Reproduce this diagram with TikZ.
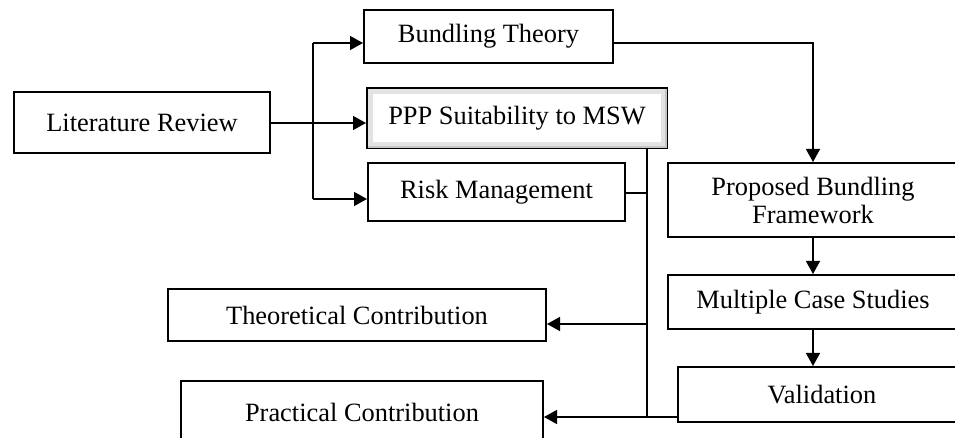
\documentclass[tikz,border=0pt]{standalone}
\usepackage{fontspec}
\setmainfont{Liberation Serif}
\usetikzlibrary{arrows.meta,calc}
\begin{document}
\begin{tikzpicture}[x=0.5pt,y=-0.5pt,
  box/.style={draw=black, line width=1pt, fill=white, rectangle, inner sep=0pt,
    font=\fontsize{13.2}{14}\selectfont, align=center},
  conn/.style={line width=0.7pt, draw=black},
  arr/.style={conn, -{Triangle[length=6.5pt,width=7pt]}}]
\useasboundingbox (0,0) rectangle (955,438);
\clip (0,0) rectangle (955,438);
\fill[white] (0,0) rectangle (955,438);
% nodes
\node[box, minimum width=128pt, minimum height=30.5pt] (lit) at (142,123) {Literature Review};
\node[box, minimum width=124.5pt, minimum height=26.5pt] (bund) at (488.5,36.5) {Bundling Theory};
\node[box, minimum width=150pt, minimum height=30pt] (ppp) at (517,118) {};
\draw[gray!22, line width=2.6pt] ($(ppp.south west)+(4.5,-4.5)$) rectangle ($(ppp.north east)+(-4.5,4.5)$);
\draw[gray!45, line width=0.8pt] ($(ppp.south west)+(2,-2)$) -- ($(ppp.south east)+(-2,-2)$) -- ($(ppp.north east)+(-2,2)$);
\node[font=\fontsize{13.2}{14}\selectfont] (ppptext) at (ppp.center) {PPP Suitability to MSW};
\node[box, minimum width=128.5pt, minimum height=29pt] (risk) at (496.5,192) {Risk Management};
\node[box, minimum width=145pt, minimum height=37pt] (prop) at (813,200) {Proposed Bundling\\Framework};
\node[box, minimum width=145pt, minimum height=27pt] (mcs) at (813,302) {Multiple Case Studies};
\node[box, minimum width=144pt, minimum height=27.5pt] (val) at (822,394.5) {Validation};
\node[box, minimum width=189pt, minimum height=26pt] (theo) at (357,315) {Theoretical Contribution};
\node[box, minimum width=181pt, minimum height=31pt] (prac) at (362,412) {Practical Contribution};
% coordinates for connectors
\coordinate (b1) at (313,43);
\coordinate (b2) at (313,199);
\coordinate (v1) at (647,148);
\coordinate (v2) at (647,417);
% left branch
\draw[conn] (b1) -- (b2);
\draw[arr] (lit.east) -- (ppp.west |- lit.east);
\draw[arr] (b1) -- (bund.west |- b1);
\draw[arr] (b2) -- (risk.west |- b2);
% bundling theory to framework
\draw[arr] (bund.east |- b1) -| (prop.north);
\draw[arr] (prop.south) -- (mcs.north);
\draw[arr] (mcs.south) -- (mcs.south |- val.north);
% right vertical collector
\draw[conn] (v1) -- (v2);
\draw[conn] (risk.east |- 0,193) -- (647,193);
\draw[arr] (647,324) -- (theo.east |- 0,324);
\draw[arr] (val.west |- v2) -- (prac.east |- v2);
\end{tikzpicture}
\end{document}
